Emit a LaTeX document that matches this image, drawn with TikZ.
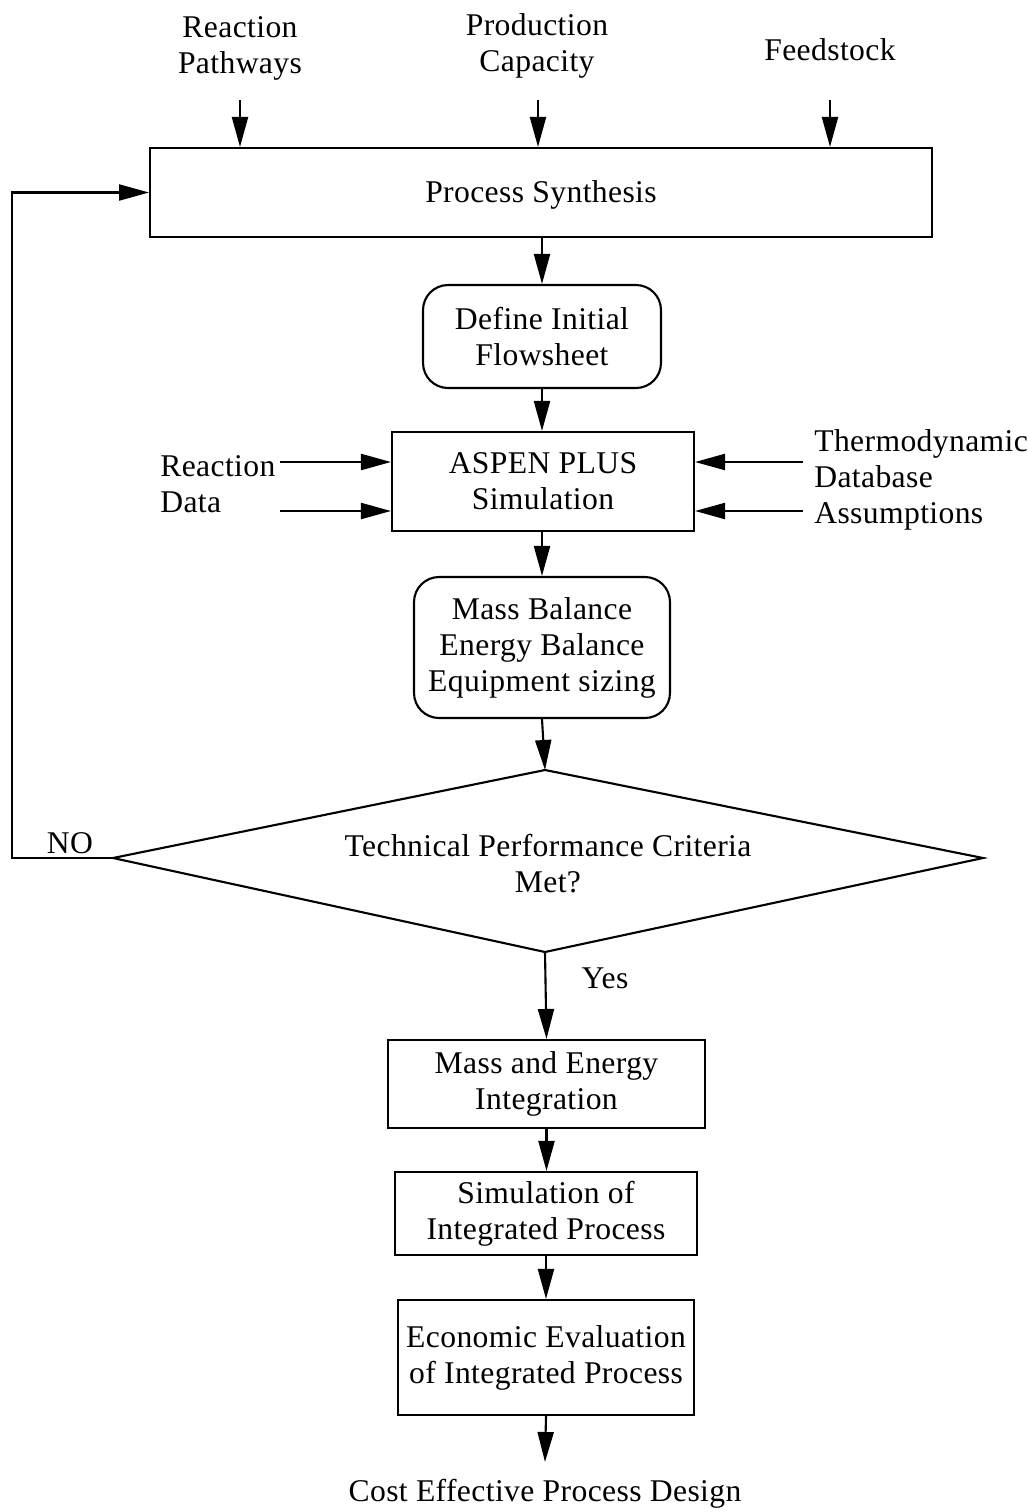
\documentclass[tikz,border=0pt]{standalone}
\usepackage{fontspec}
\setmainfont{Liberation Serif}[LetterSpace=1.2]
\usetikzlibrary{arrows.meta}
\begin{document}
\begin{tikzpicture}[x=0.02cm,y=-0.02cm,
  every node/.style={font=\fontsize{18}{20.5}\selectfont},
  box/.style={draw,line width=1.2pt,align=center,inner sep=0pt},
  rbox/.style={box,rounded corners=0.5cm},
  lbl/.style={align=center,inner sep=0pt},
  arr/.style={line width=1.2pt,-{Triangle[length=0.6cm,width=0.32cm]}},
  ln/.style={line width=1.2pt}]
\useasboundingbox (0,0) rectangle (1028,1512);
% labels on top
\node[lbl] (rp) at (240,48) {Reaction\\Pathways};
\node[lbl] (pc) at (537,46) {Production\\Capacity};
\node[lbl] (fs) at (830,50) {Feedstock};
\coordinate (a1) at (240,100);
\coordinate (a2) at (538,100);
\coordinate (a3) at (830,100);
% boxes
\node[box,minimum width=15.64cm,minimum height=1.78cm] (ps) at (541,192.5) {};
\node[lbl] (pst) at (541,195) {Process Synthesis};
\node[rbox,minimum width=4.76cm,minimum height=2.06cm] (dif) at (542,336.5) {Define Initial\\Flowsheet};
\node[box,minimum width=6.04cm,minimum height=1.98cm] (asp) at (543,481.5) {ASPEN PLUS\\Simulation};
\node[rbox,minimum width=5.12cm,minimum height=2.82cm] (mb) at (542,647.5) {Mass Balance\\Energy Balance\\Equipment sizing};
% diamond
\coordinate (dt) at (545,770);
\coordinate (dl) at (113,858);
\coordinate (dr) at (983,858);
\coordinate (db) at (545,952);
\draw[ln,line join=miter] (dt) -- (dr) -- (db) -- (dl) -- cycle;
\node[lbl] (crit) at (548,864) {Technical Performance Criteria\\Met?};
\node[box,minimum width=6.34cm,minimum height=1.76cm] (mei) at (546.5,1084) {Mass and Energy\\Integration};
\node[box,minimum width=6.04cm,minimum height=1.66cm] (sip) at (546,1213.5) {Simulation of\\Integrated Process};
\node[box,minimum width=5.92cm,minimum height=2.3cm] (eei) at (546,1357.5) {Economic Evaluation\\of Integrated Process};
\node[lbl] (cost) at (545,1494) {Cost Effective Process Design};
\coordinate (cend) at (545,1462);
% side labels
\node[lbl,anchor=west,align=left] (rd) at (160,484) {Reaction\\Data};
\node[lbl,anchor=west,align=left] (td) at (814,480) {Thermodynamic\\Database\\Assumptions};
\coordinate (l1) at (280,462);
\coordinate (l2) at (280,511);
\coordinate (r1) at (803,462);
\coordinate (r2) at (803,511);
\coordinate (lp) at (12,858);
\node[lbl] (no) at (70,843) {NO};
\node[lbl] (yes) at (605,978) {Yes};
% connectors
\draw[arr] (a1) -- (a1 |- ps.north);
\draw[arr] (a2) -- (a2 |- ps.north);
\draw[arr] (a3) -- (a3 |- ps.north);
\draw[arr] (ps.south -| dif.north) -- (dif.north);
\draw[arr] (dif.south) -- (dif.south |- asp.north);
\draw[arr] (l1) -- (l1 -| asp.west);
\draw[arr] (l2) -- (l2 -| asp.west);
\draw[arr] (r1) -- (r1 -| asp.east);
\draw[arr] (r2) -- (r2 -| asp.east);
\draw[arr] (asp.south -| mb.north) -- (mb.north);
\draw[arr] (mb.south) -- (dt);
\draw[arr] (dl) -- (lp) |- (ps.west);
\draw[arr] (db) -- (mei.north);
\draw[arr] (mei.south) -- (mei.south |- sip.north);
\draw[arr] (sip.south -| eei.north) -- (eei.north);
\draw[arr] (eei.south) -- (cend);
\end{tikzpicture}
\end{document}
